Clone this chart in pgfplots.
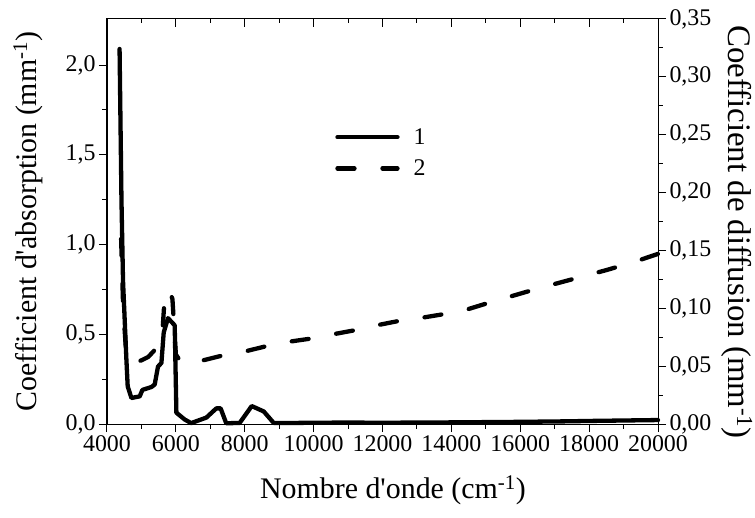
\documentclass[border=0pt]{standalone}
\usepackage{fontspec}
\setmainfont{Liberation Serif}
\usepackage{pgfplots}
\pgfplotsset{compat=1.18}
\pgfplotsset{
  common/.style={
    at={(0bp,0bp)}, anchor=south west,
    scale only axis, width=551bp, height=405bp,
    xmin=4000, xmax=20000,
    xtick={4000,6000,...,20000},
    minor x tick num=1,
    major tick length=8bp, minor tick length=4.5bp,
    axis line style={line width=1bp},
    every tick/.style={line width=1bp, black},
    tick label style={font=\fontsize{24}{26}\selectfont},
    label style={font=\fontsize{30}{34}\selectfont},
    /pgf/number format/assume math mode=true,
    /pgf/number format/use comma,
    /pgf/number format/1000 sep={},
    scaled ticks=false,
    tick align=outside,
    clip=false,
  },
  sol/.style={black, line width=4.3bp, line join=round, line cap=round},
  dsh/.style={black, line width=4.3bp, line join=round, line cap=round, dash pattern=on 17bp off 28bp},
}
\begin{document}
\begin{tikzpicture}
\useasboundingbox (-107bp,-94bp) rectangle (648bp,424bp);
\begin{axis}[common,
  ymin=0, ymax=2.257,
  ytick={0,0.5,1.0,1.5,2.0},
  minor y tick num=1,
  yticklabel style={/pgf/number format/fixed, /pgf/number format/fixed zerofill, /pgf/number format/precision=1},
  xtick pos=bottom, ytick pos=left,
  xlabel={Nombre d\textquotesingle onde (cm\textsuperscript{-1})},
  ylabel={Coefficient d\textquotesingle absorption (mm\textsuperscript{-1})},
  xlabel style={at={(axis description cs:0.519,-0.163)}, anchor=center},
  ylabel style={at={(axis description cs:-0.1434,0.5)}, anchor=center},
]
\addplot[sol] coordinates {
(4365,2.09) (4420,1.25) (4465,0.80) (4563,0.36) (4601,0.21) (4709,0.145)
(4950,0.154) (5028,0.19) (5289,0.206) (5385,0.22) (5481,0.32) (5580,0.34)
(5647,0.51) (5771,0.59) (5966,0.55) (6015,0.063) (6256,0.025) (6445,0.005)
(6887,0.036) (7174,0.087) (7300,0.087) (7462,0.004) (7853,0.006) (8202,0.10)
(8551,0.07) (8841,0.006) (9500,0.006) (10000,0.007) (11000,0.008) (12000,0.007)
(14000,0.009) (16000,0.012) (17400,0.015) (18000,0.017) (20000,0.022)
};
\end{axis}
\begin{axis}[common,
  ymin=0, ymax=0.35,
  ytick={0,0.05,0.1,0.15,0.2,0.25,0.3,0.35},
  minor y tick num=1,
  yticklabel style={/pgf/number format/fixed, /pgf/number format/fixed zerofill, /pgf/number format/precision=2},
  xtick=\empty,
  ytick pos=right, yticklabel pos=right,
  ylabel={Coefficient de diffusion (mm\textsuperscript{-1})},
  ylabel style={at={(axis description cs:1.143,0.474)}, anchor=center, rotate=180, font=\fontsize{33}{36}\selectfont},
  legend style={draw=none, fill=none, inner sep=0pt, font=\fontsize{24}{26}\selectfont,
    row sep=10bp, at={(axis description cs:0.414,0.735)}, anchor=north west,
    /tikz/every odd column/.append style={column sep=12bp}},
  legend cell align=left,
  legend image code/.code={\draw[#1] (0bp,0bp) -- (60bp,0bp);},
]
\addlegendimage{sol}
\addlegendentry{1}
\addplot[dsh] coordinates {
(4410,0.16) (4470,0.10) (4560,0.06) (4650,0.054) (4800,0.053) (5000,0.055)
(5200,0.058) (5450,0.066) (5600,0.075) (5680,0.112) (5800,0.116) (5900,0.108)
(6000,0.06) (6160,0.053) (6788,0.055) (7467,0.060) (8048,0.063) (8725,0.068)
(9355,0.0714) (10032,0.0743) (10612,0.0778) (11280,0.0815) (11919,0.0858)
(12549,0.0895) (13177,0.092) (13856,0.0953) (14437,0.0988) (15114,0.105)
(15694,0.110) (16500,0.117) (17500,0.125) (18500,0.133) (19300,0.140) (20000,0.147)
};
\addlegendentry{2}
\end{axis}
\begin{axis}[common,
  ymin=0, ymax=1, ytick=\empty,
  xtick pos=top, tick align=inside, xticklabels={},
]
\end{axis}
\end{tikzpicture}
\end{document}
